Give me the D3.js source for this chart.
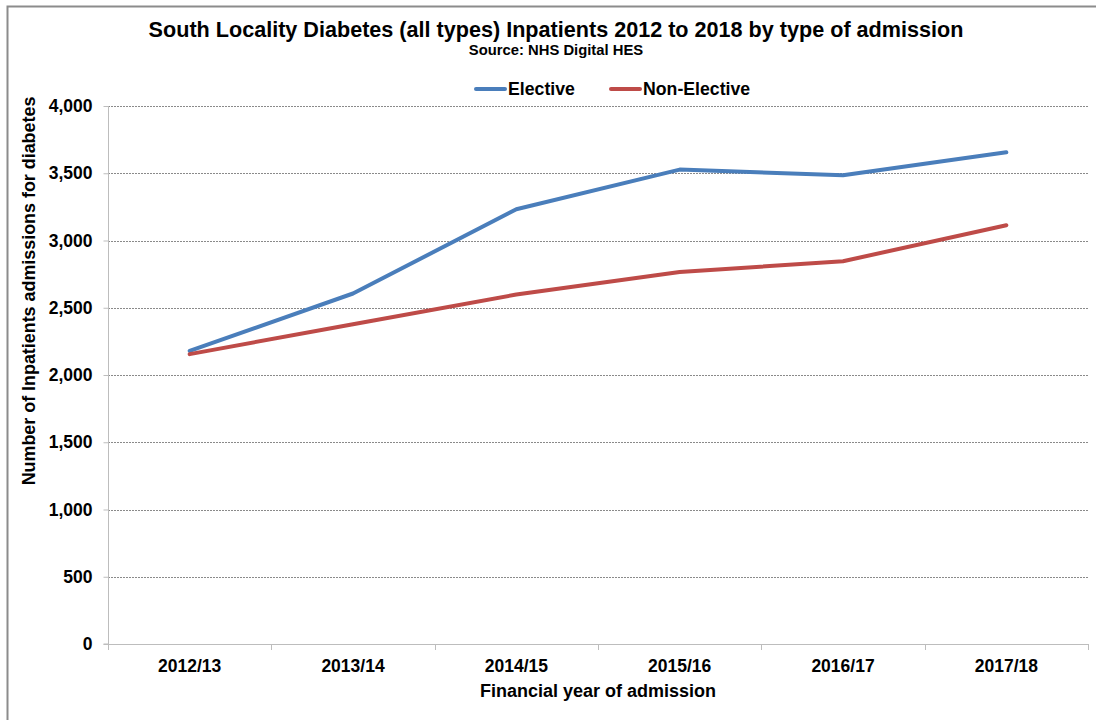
<!DOCTYPE html>
<html><head><meta charset="utf-8">
<script src="https://cdn.jsdelivr.net/npm/d3@7"></script>
<style>body{margin:0;background:#fff}svg{display:block;font-family:"Liberation Sans",Arial,sans-serif}</style>
</head><body>
<svg id="c" width="1096" height="720"></svg>
<script>
const categories = ["2012/13","2013/14","2014/15","2015/16","2016/17","2017/18"];
const elective = [2179, 2606, 3232, 3527, 3485, 3656];
const nonElective = [2155, 2378, 2598, 2766, 2846, 3113];
const yTicks = [0,500,1000,1500,2000,2500,3000,3500,4000];
const seriesNames = ["Elective","Non-Elective"];
const colors = ["#4a7ebb","#be4b48"];

const svg = d3.select("#c");
svg.append("rect").attr("x",7.5).attr("y",6.5).attr("width",1200).attr("height",800)
  .attr("fill","none").attr("stroke","#8c8c8c").attr("stroke-width",2);

const L=108, R=1088, T=106, B=644;
const x = d3.scaleBand().domain(categories).range([L,R]);
const y = d3.scaleLinear().domain([0,4000]).range([B,T]);

// gridlines
svg.append("g").selectAll("line").data(yTicks.filter(d=>d>0)).join("line")
  .attr("x1",L).attr("x2",R).attr("y1",d=>Math.round(y(d))+0.5).attr("y2",d=>Math.round(y(d))+0.5)
  .attr("stroke","#8a8a8a").attr("stroke-width",1).attr("stroke-dasharray","2,1");

// y axis
const ya = svg.append("g").attr("transform",`translate(${L+0.5},0)`)
  .call(d3.axisLeft(y).tickValues(yTicks).tickFormat(d3.format(",")).tickSize(5).tickPadding(11));
ya.select(".domain").attr("stroke","#bdbdbd").attr("d",`M-5,${B}H0V${T}`);
ya.selectAll(".tick line").attr("stroke","#bdbdbd");
ya.selectAll("text").attr("font-size",17.5).attr("font-weight","bold").attr("fill","#000")
  .attr("font-family","'Liberation Sans',Arial,sans-serif");

// x axis
const xa = svg.append("g").attr("transform",`translate(0,${B+0.5})`)
  .call(d3.axisBottom(x).tickSize(0).tickPadding(15));
xa.select(".domain").attr("stroke","#bdbdbd").attr("d",`M${L},0H${R}`);
xa.selectAll("text").attr("font-size",17.5).attr("font-weight","bold").attr("fill","#000")
  .attr("font-family","'Liberation Sans',Arial,sans-serif");
const bounds = categories.map(c=>x(c)).concat([R]);
svg.append("g").selectAll("line").data(bounds).join("line")
  .attr("x1",d=>Math.round(d)+0.5).attr("x2",d=>Math.round(d)+0.5).attr("y1",B).attr("y2",B+6)
  .attr("stroke","#bdbdbd");

// lines
const line = d3.line().x((d,i)=>x(categories[i])+x.bandwidth()/2).y(d=>y(d));
[elective, nonElective].forEach((s,k)=>{
  svg.append("path").datum(s).attr("d",line).attr("fill","none")
    .attr("stroke",colors[k]).attr("stroke-width",4).attr("stroke-linejoin","round").attr("stroke-linecap","round");
});

// title
svg.append("text").attr("x",556).attr("y",37).attr("text-anchor","middle")
  .attr("font-size",21.6).attr("font-weight","bold").text("South Locality Diabetes (all types) Inpatients 2012 to 2018 by type of admission");
svg.append("text").attr("x",556).attr("y",55).attr("text-anchor","middle")
  .attr("font-size",14.8).attr("font-weight","bold").text("Source: NHS Digital HES");

// legend
const legX = [474, 609];
seriesNames.forEach((n,k)=>{
  svg.append("line").attr("x1",legX[k]+2).attr("x2",legX[k]+31).attr("y1",89).attr("y2",89)
    .attr("stroke",colors[k]).attr("stroke-width",4).attr("stroke-linecap","round");
  svg.append("text").attr("x",legX[k]+34).attr("y",95).attr("font-size",17.7).attr("font-weight","bold").text(n);
});

// axis titles
svg.append("text").attr("transform","translate(35,291) rotate(-90)").attr("text-anchor","middle")
  .attr("font-size",17.9).attr("font-weight","bold").text("Number of Inpatients admissions for diabetes");
svg.append("text").attr("x",598).attr("y",697).attr("text-anchor","middle")
  .attr("font-size",18).attr("font-weight","bold").text("Financial year of admission");
</script>
</body></html>
